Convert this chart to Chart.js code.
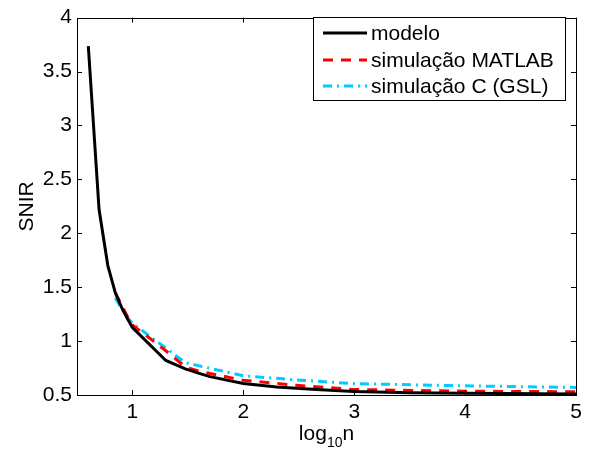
<!DOCTYPE html>
<html>
<head>
<meta charset="utf-8">
<script src="https://cdn.jsdelivr.net/npm/chart.js@4/dist/chart.umd.min.js"></script>
<style>
  body { margin: 0; background: #fff; }
  #wrap { width: 595px; height: 454px; }
</style>
</head>
<body>
<div id="wrap"><canvas id="chartDiv" width="595" height="454"></canvas></div>
<script>
//data (x = log10 n)
const modelX = [0.602, 0.699, 0.778, 0.845, 0.903, 0.954, 1, 1.301, 1.477, 1.602, 1.699, 2, 2.301, 2.477, 2.699, 3, 3.5, 4, 5];
const modelY = [3.735, 2.22, 1.70, 1.45, 1.31, 1.21, 1.125, 0.82, 0.743, 0.70, 0.67, 0.606, 0.575, 0.562, 0.548, 0.532, 0.522, 0.516, 0.51];
const matlabX = [0.845, 0.903, 0.954, 1, 1.301, 1.477, 1.602, 1.699, 2, 2.477, 3, 4, 5];
const matlabY = [1.45, 1.33, 1.23, 1.15, 0.91, 0.76, 0.72, 0.70, 0.636, 0.59, 0.551, 0.535, 0.53];
const gslX = [0.845, 0.903, 0.954, 1, 1.301, 1.477, 1.602, 1.699, 2, 2.477, 3, 4, 5];
const gslY = [1.40, 1.30, 1.22, 1.165, 0.935, 0.80, 0.77, 0.748, 0.678, 0.64, 0.605, 0.585, 0.57];
const xTicks = [1, 2, 3, 4, 5];
const xTickLabels = ["1", "2", "3", "4", "5"];
const yTicks = [0.5, 1, 1.5, 2, 2.5, 3, 3.5, 4];
const yTickLabels = ["0.5", "1", "1.5", "2", "2.5", "3", "3.5", "4"];
const seriesNames = ["modelo", "simulação MATLAB", "simulação C (GSL)"];

const FONT = "'Liberation Sans', Arial, Helvetica, sans-serif";
const FS = 21;
const colBlack = "#000000";
const colRed = "#ff0000";
const colCyan = "#00ccff";
const dashRed = [10, 8];
const dashCyan = [9, 5, 2, 5];

function pts(xs, ys) {
  return xs.map((x, i) => ({ x: x, y: ys[i] }));
}

//frame, inward ticks, axis titles, legend
const matlabLook = {
  id: "matlabLook",
  afterDraw(chart) {
    const ctx = chart.ctx;
    const a = chart.chartArea;
    const xs = chart.scales.x;
    const ys = chart.scales.y;
    ctx.save();
    ctx.strokeStyle = "#000";
    ctx.lineWidth = 1;
    ctx.strokeRect(Math.round(a.left) + 0.5, Math.round(a.top) + 0.5, Math.round(a.right - a.left), Math.round(a.bottom - a.top));
    const tl = 5;
    ctx.beginPath();
    xTicks.forEach((v) => {
      const px = Math.round(xs.getPixelForValue(v)) + 0.5;
      ctx.moveTo(px, a.bottom); ctx.lineTo(px, a.bottom - tl);
      ctx.moveTo(px, a.top); ctx.lineTo(px, a.top + tl);
    });
    yTicks.forEach((v) => {
      const py = Math.round(ys.getPixelForValue(v)) + 0.5;
      ctx.moveTo(a.left, py); ctx.lineTo(a.left + tl, py);
      ctx.moveTo(a.right, py); ctx.lineTo(a.right - tl, py);
    });
    ctx.stroke();

    //x title log10n
    ctx.fillStyle = "#000";
    ctx.textBaseline = "alphabetic";
    ctx.textAlign = "left";
    const big = FS + "px " + FONT;
    const small = "14px " + FONT;
    ctx.font = big;
    const w1 = ctx.measureText("log").width;
    const w3 = ctx.measureText("n").width;
    ctx.font = small;
    const w2 = ctx.measureText("10").width;
    const cx = (a.left + a.right) / 2;
    let x0 = cx - (w1 + w2 + w3) / 2;
    const base = 440;
    ctx.font = big;
    ctx.fillText("log", x0, base);
    ctx.font = small;
    ctx.fillText("10", x0 + w1, base + 7);
    ctx.font = big;
    ctx.fillText("n", x0 + w1 + w2, base);

    //y title
    ctx.save();
    ctx.translate(33, (a.top + a.bottom) / 2);
    ctx.rotate(-Math.PI / 2);
    ctx.textAlign = "center";
    ctx.fillText("SNIR", 0, 0);
    ctx.restore();

    //legend box
    const lx = 313, ly = 17, lw = 252, lh = 83;
    ctx.fillStyle = "#fff";
    ctx.fillRect(lx, ly, lw, lh);
    ctx.strokeRect(lx + 0.5, ly + 0.5, lw, lh);
    const rows = [33, 60, 86];
    const styles = [
      { c: colBlack, d: [], w: 3 },
      { c: colRed, d: dashRed, w: 3 },
      { c: colCyan, d: dashCyan, w: 3 },
    ];
    rows.forEach((ry, i) => {
      ctx.beginPath();
      ctx.strokeStyle = styles[i].c;
      ctx.lineWidth = styles[i].w;
      ctx.setLineDash(styles[i].d);
      ctx.moveTo(323, ry);
      ctx.lineTo(367, ry);
      ctx.stroke();
      ctx.setLineDash([]);
      ctx.fillStyle = "#000";
      ctx.font = big;
      ctx.textBaseline = "middle";
      ctx.textAlign = "left";
      ctx.fillText(seriesNames[i], 371, ry + 1);
    });
    ctx.restore();
  },
};

const chart = new Chart(document.getElementById("chartDiv"), {
  type: "line",
  data: {
    datasets: [
      {
        label: seriesNames[0],
        data: pts(modelX, modelY),
        borderColor: colBlack,
        borderWidth: 3,
        pointRadius: 0,
        tension: 0,
      },
      {
        label: seriesNames[1],
        data: pts(matlabX, matlabY),
        borderColor: colRed,
        borderWidth: 3,
        borderDash: dashRed,
        pointRadius: 0,
        tension: 0,
      },
      {
        label: seriesNames[2],
        data: pts(gslX, gslY),
        borderColor: colCyan,
        borderWidth: 3,
        borderDash: dashCyan,
        pointRadius: 0,
        tension: 0,
      },
    ],
  },
  options: {
    responsive: false,
    animation: false,
    layout: { padding: { top: 11, right: 19, left: 0, bottom: 0 } },
    plugins: {
      legend: { display: false },
      tooltip: { enabled: false },
    },
    scales: {
      x: {
        type: "linear",
        min: 0.5,
        max: 5,
        afterBuildTicks: (s) => { s.ticks = xTicks.map((v) => ({ value: v })); },
        afterFit: (s) => { s.height = 59; },
        grid: { display: false, drawTicks: false },
        border: { display: false },
        ticks: {
          color: "#000",
          font: { family: FONT, size: FS },
          padding: 5,
          maxRotation: 0,
          callback: (v, i) => xTickLabels[i],
        },
      },
      y: {
        type: "linear",
        min: 0.5,
        max: 4,
        afterBuildTicks: (s) => { s.ticks = yTicks.map((v) => ({ value: v })); },
        afterFit: (s) => { s.width = 77; },
        grid: { display: false, drawTicks: false },
        border: { display: false },
        ticks: {
          color: "#000",
          font: { family: FONT, size: FS },
          padding: 5,
          callback: (v, i) => yTickLabels[i],
        },
      },
    },
  },
  plugins: [matlabLook],
});
</script>
</body>
</html>
